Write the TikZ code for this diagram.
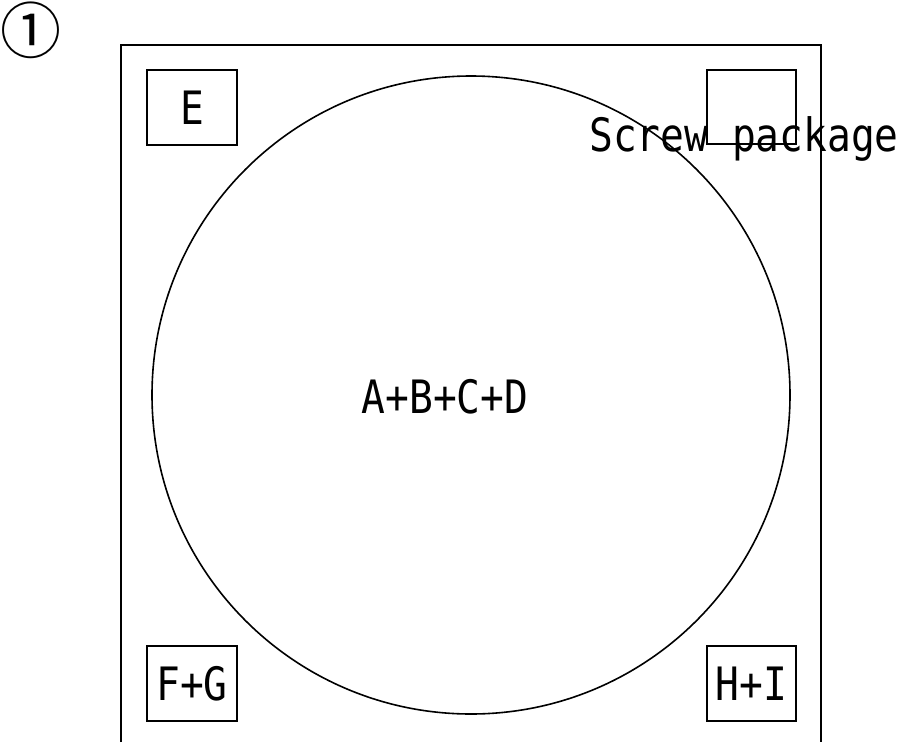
\documentclass[tikz,border=0pt]{standalone}
\usepackage{fontspec}
\newfontfamily\gfont[FakeStretch=0.86]{DejaVu Sans Mono}
\newfontfamily\symfont{Noto Sans CJK JP}
\begin{document}
\begin{tikzpicture}[x=1pt,y=-1pt,
  line/.style={line width=1.4pt,draw=black},
  part/.style={line, minimum width=90pt, minimum height=75pt, inner sep=0pt, font=\gfont\fontsize{46}{46}\selectfont},
  lbl/.style={font=\gfont\fontsize{46}{46}\selectfont, inner sep=0pt}]
\useasboundingbox (0,0) rectangle (913,742);
\fill[white] (0,0) rectangle (913,742);
% outer frame (open at bottom)
\coordinate (fl) at (121,742);
\coordinate (flt) at (121,45);
\coordinate (frt) at (821,45);
\coordinate (fr) at (821,742);
\draw[line] (fl) -- (flt) -- (frt) -- (fr);
% big circle
\node[line, line width=1.6pt, circle, minimum size=638pt, inner sep=0pt] (disc) at (471,395) {};
\node[lbl, anchor=base] (abcd) at (445,413) {A+B+C+D};
% corner boxes
\node[part] (e) at (192,107.5) {E};
\node[part, minimum width=89pt, minimum height=74pt] (screwbox) at (751.5,107) {};
\node[part] (fg) at (192,683.5) {F+G};
\node[part, minimum width=89pt] (hi) at (751.5,683.5) {H+I};
\node[lbl, anchor=base] (screw) at (744,151.5) {Screw package};
% numbering
\node[font=\symfont\fontsize{61}{61}\selectfont, inner sep=0pt] (num) at (30.5,30.5) {①};
\end{tikzpicture}
\end{document}
